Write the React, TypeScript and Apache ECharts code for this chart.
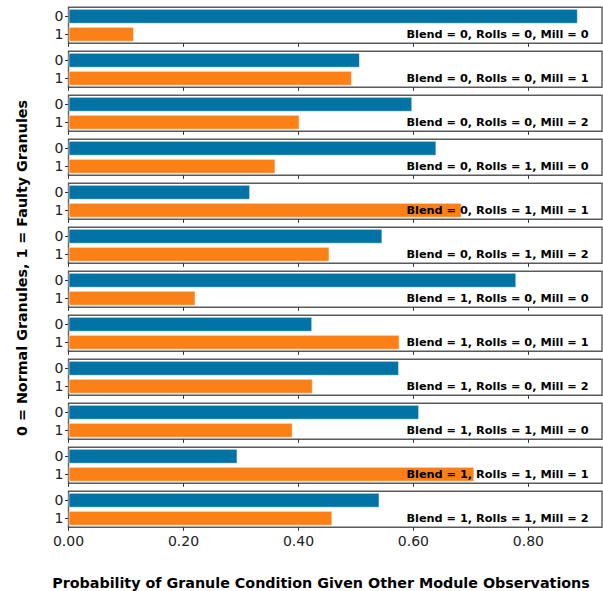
import React, { useEffect, useRef } from "react";
import * as echarts from "echarts";

// Conditional probability of granule condition (0 = normal, 1 = faulty)
const conditions = [
  "Blend = 0, Rolls = 0, Mill = 0",
  "Blend = 0, Rolls = 0, Mill = 1",
  "Blend = 0, Rolls = 0, Mill = 2",
  "Blend = 0, Rolls = 1, Mill = 0",
  "Blend = 0, Rolls = 1, Mill = 1",
  "Blend = 0, Rolls = 1, Mill = 2",
  "Blend = 1, Rolls = 0, Mill = 0",
  "Blend = 1, Rolls = 0, Mill = 1",
  "Blend = 1, Rolls = 0, Mill = 2",
  "Blend = 1, Rolls = 1, Mill = 0",
  "Blend = 1, Rolls = 1, Mill = 1",
  "Blend = 1, Rolls = 1, Mill = 2",
];
const normalProb = [0.886, 0.507, 0.598, 0.64, 0.316, 0.546, 0.779, 0.424, 0.575, 0.61, 0.294, 0.541];
const faultyProb = [0.114, 0.493, 0.402, 0.36, 0.684, 0.454, 0.221, 0.576, 0.425, 0.39, 0.706, 0.459];
const stateLabels = ["0", "1"];
const xTicks = [0, 0.2, 0.4, 0.6, 0.8];

const BLUE = "#0173a6";
const ORANGE = "#fd8017";
const FONT = "DejaVu Sans";

export default function App() {
  const ref = useRef<HTMLDivElement>(null);

  useEffect(() => {
    if (!ref.current) return;
    const chart = echarts.init(ref.current, undefined, { renderer: "svg" });

    const left = 68.5;
    const right = 602;
    const top0 = 7.3;
    const pitch = 44;
    const h = 36;
    const n = conditions.length;

    const grid: any[] = [];
    const xAxis: any[] = [];
    const yAxis: any[] = [];
    const series: any[] = [];
    const graphic: any[] = [];

    conditions.forEach((cond, i) => {
      const top = top0 + i * pitch;
      const last = i === n - 1;
      grid.push({
        left,
        top,
        width: right - left,
        height: h,
        show: true,
        borderColor: "#5a5a5a",
        borderWidth: 1.4,
        backgroundColor: "#ffffff",
      });
      xAxis.push({
        type: "value",
        gridIndex: i,
        min: 0,
        max: 0.928,
        interval: 0.2,
        splitLine: { show: false },
        axisLine: { show: false },
        axisTick: {
          show: true,
          inside: false,
          length: 3.5,
          lineStyle: { color: "#333", width: 1 },
          customValues: xTicks,
        },
        axisLabel: {
          show: last,
          customValues: xTicks,
          formatter: (v: number) => v.toFixed(2),
          fontFamily: FONT,
          fontSize: 14,
          color: "#222",
          margin: 7,
        },
      });
      yAxis.push({
        type: "category",
        gridIndex: i,
        data: stateLabels,
        inverse: true,
        axisLine: { show: false },
        axisTick: {
          show: true,
          inside: false,
          length: 3.5,
          alignWithLabel: true,
          interval: 0,
          lineStyle: { color: "#333", width: 1 },
        },
        axisLabel: {
          interval: 0,
          fontFamily: FONT,
          fontSize: 14,
          color: "#222",
          margin: 5,
        },
      });
      series.push({
        type: "bar",
        xAxisIndex: i,
        yAxisIndex: i,
        barCategoryGap: "17%",
        silent: true,
        itemStyle: { borderColor: "rgba(255,255,255,0.55)", borderWidth: 1 },
        data: [
          { value: normalProb[i], itemStyle: { color: BLUE } },
          { value: faultyProb[i], itemStyle: { color: ORANGE } },
        ],
      });
      graphic.push({
        type: "text",
        x: 588.5,
        y: top + 27,
        z: 100,
        style: {
          text: cond,
          fontFamily: FONT,
          fontSize: 11.3,
          fontWeight: "bold",
          fill: "#000",
          textAlign: "right",
          textVerticalAlign: "middle",
        },
      });
    });

    graphic.push({
      type: "text",
      x: 22,
      y: 268,
      rotation: Math.PI / 2,
      z: 100,
      style: {
        text: "0 = Normal Granules, 1 = Faulty Granules",
        fontFamily: FONT,
        fontSize: 14.3,
        fontWeight: "bold",
        fill: "#000",
        textAlign: "center",
        textVerticalAlign: "middle",
      },
    });
    graphic.push({
      type: "text",
      x: 321,
      y: 583,
      z: 100,
      style: {
        text: "Probability of Granule Condition Given Other Module Observations",
        fontFamily: FONT,
        fontSize: 14.3,
        fontWeight: "bold",
        fill: "#000",
        textAlign: "center",
        textVerticalAlign: "middle",
      },
    });

    chart.setOption({
      animation: false,
      backgroundColor: "#ffffff",
      grid,
      xAxis,
      yAxis,
      series,
      graphic,
    });

    return () => chart.dispose();
  }, []);

  return (
    <div
      ref={ref}
      style={{ position: "fixed", left: 0, top: 0, width: 603, height: 591 }}
    />
  );
}
